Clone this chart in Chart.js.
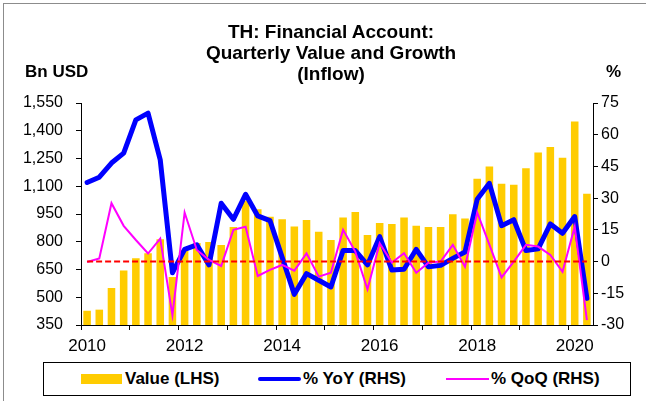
<!DOCTYPE html>
<html>
<head>
<meta charset="utf-8">
<script src="https://cdn.jsdelivr.net/npm/chart.js@4.4.1/dist/chart.umd.min.js"></script>
<style>
  html, body { margin: 0; padding: 0; background: #fff; }
  #wrap { position: relative; width: 646px; height: 401px; overflow: hidden; font-family: 'Liberation Sans', Arial, sans-serif; }
  #frame { position: absolute; left: 3px; top: 3px; width: 660px; height: 420px; border-left: 1px solid #8c8c8c; border-top: 1px solid #8c8c8c; }
  canvas { position: absolute; left: 0; top: 0; }
  .title { position: absolute; left: 0; width: 662px; top: 21px; text-align: center; font-weight: bold; font-size: 19px; line-height: 21px; color: #000; }
  .unit { position: absolute; font-weight: bold; font-size: 17px; color: #000; line-height: 20px; }
  #legend { position: absolute; left: 43px; top: 362px; width: 586px; height: 32px; border: 1px solid #000; background: #fff; }
  .lg { position: absolute; top: 6px; font-weight: bold; font-size: 17px; line-height: 20px; color: #000; }
  .sw { position: absolute; }
</style>
</head>
<body>
<div id="wrap">
  <div id="frame"></div>
  <canvas id="finChart" width="646" height="401"></canvas>
  <div class="title">TH: Financial Account:<br>Quarterly Value and Growth<br>(Inflow)</div>
  <div class="unit" style="left:25px; top:62px;">Bn USD</div>
  <div class="unit" style="left:606px; top:62px;">%</div>
  <div id="legend">
    <div class="sw" style="left:37px; top:11px; width:41px; height:10px; background:#FFCC00;"></div>
    <div class="lg" style="left:81px;">Value (LHS)</div>
    <div class="sw" style="left:214px; top:14px; width:43px; height:4px; background:#0000FF; border-radius:2px;"></div>
    <div class="lg" style="left:259px;">% YoY (RHS)</div>
    <div class="sw" style="left:402px; top:15px; width:43px; height:2px; background:#FF00FF;"></div>
    <div class="lg" style="left:447px;">% QoQ (RHS)</div>
  </div>
</div>
<script>
const quarters = [
  '2010Q1','2010Q2','2010Q3','2010Q4','2011Q1','2011Q2','2011Q3','2011Q4',
  '2012Q1','2012Q2','2012Q3','2012Q4','2013Q1','2013Q2','2013Q3','2013Q4',
  '2014Q1','2014Q2','2014Q3','2014Q4','2015Q1','2015Q2','2015Q3','2015Q4',
  '2016Q1','2016Q2','2016Q3','2016Q4','2017Q1','2017Q2','2017Q3','2017Q4',
  '2018Q1','2018Q2','2018Q3','2018Q4','2019Q1','2019Q2','2019Q3','2019Q4',
  '2020Q1','2020Q2'
];

// Bn USD (left axis)
const inflowValue = [
  427, 433, 550, 644, 711, 738, 814, 609,
  757, 793, 799, 783, 880, 1022, 976, 935,
  922, 883, 918, 854, 810, 931, 961, 837,
  902, 896, 931, 886, 880, 880, 949, 926,
  1140, 1207, 1113, 1108, 1197, 1283, 1312, 1254,
  1450, 1059
];

// % (right axis)
const yoyGrowth = [
  37.4, 39.9, 46.6, 51.3, 67.0, 70.2, 48.1, -5.3,
  5.8, 7.9, -1.6, 27.6, 20.0, 31.8, 21.6, 19.4,
  2.0, -15.5, -5.7, -8.8, -12.0, 5.2, 5.2, -1.6,
  11.8, -4.0, -3.6, 5.8, -2.5, -1.8, 1.5, 4.5,
  29.5, 37.0, 17.0, 19.8, 5.2, 6.0, 17.8, 13.4,
  21.3, -17.4
];

const qoqGrowth = [
  -0.2, 1.5, 27.6, 16.9, 10.2, 3.8, 10.9, -25.3,
  23.2, 5.5, 0.8, -2.1, 15.0, 16.5, -6.8, -3.9,
  -1.6, -4.3, 3.9, -7.1, -5.3, 15.0, 4.7, -13.1,
  8.7, -0.5, 3.9, -5.3, -0.5, 0.0, 7.9, -2.4,
  23.2, 8.0, -7.5, 0.0, 7.9, 7.1, 3.1, -4.8,
  16.5, -27.7
];

const leftTicks = { min: 350, max: 1550, step: 150 };
const rightTicks = { min: -30, max: 75, step: 15 };

// red dashed line at 0 % across the categories
const zeroLine = {
  id: 'zeroLine',
  afterDatasetsDraw(chart) {
    const x = chart.scales.x;
    const y2 = chart.scales.y2;
    const ctx = chart.ctx;
    const yy = y2.getPixelForValue(0);
    ctx.save();
    ctx.strokeStyle = '#FF0000';
    ctx.lineWidth = 2;
    ctx.setLineDash([6, 3]);
    ctx.beginPath();
    ctx.moveTo(x.getPixelForValue(0), yy);
    ctx.lineTo(x.getPixelForValue(quarters.length - 1), yy);
    ctx.stroke();
    ctx.restore();
  }
};

const tickFont = { family: "'Liberation Sans', Arial, sans-serif", size: 16 };

new Chart(document.getElementById('finChart').getContext('2d'), {
  type: 'bar',
  data: {
    labels: quarters,
    datasets: [
      {
        label: '% QoQ (RHS)',
        type: 'line',
        data: qoqGrowth,
        yAxisID: 'y2',
        borderColor: '#FF00FF',
        borderWidth: 2,
        pointRadius: 0,
        tension: 0,
        order: 1
      },
      {
        label: '% YoY (RHS)',
        type: 'line',
        data: yoyGrowth,
        yAxisID: 'y2',
        borderColor: '#0000FF',
        borderWidth: 5,
        borderJoinStyle: 'round',
        borderCapStyle: 'round',
        pointRadius: 0,
        tension: 0,
        order: 2
      },
      {
        label: 'Value (LHS)',
        data: inflowValue,
        yAxisID: 'y',
        backgroundColor: '#FFCC00',
        categoryPercentage: 1,
        barPercentage: 0.62,
        order: 3
      }
    ]
  },
  options: {
    responsive: false,
    animation: false,
    devicePixelRatio: 1,
    layout: { padding: { left: 0, right: 0, top: 103, bottom: 46 } },
    plugins: {
      legend: { display: false },
      tooltip: { enabled: false },
      title: { display: false }
    },
    scales: {
      x: {
        offset: true,
        grid: {
          offset: true,
          drawOnChartArea: false,
          tickLength: 5,
          color: (c) => (c.index % 4 === 0 ? '#000' : 'rgba(0,0,0,0)')
        },
        border: { display: true, color: '#000', width: 1 },
        ticks: {
          autoSkip: false,
          maxRotation: 0,
          padding: 6,
          color: '#000',
          font: { family: tickFont.family, size: 17 },
          callback: function (value, index) {
            const q = quarters[index];
            const yr = parseInt(q.slice(0, 4), 10);
            return (q.endsWith('Q1') && yr % 2 === 0) ? String(yr) : '';
          }
        },
        afterFit: (scale) => { scale.height = 30; }
      },
      y: {
        position: 'left',
        min: leftTicks.min,
        max: leftTicks.max,
        grid: { drawOnChartArea: false, tickLength: 5, color: '#000' },
        border: { display: true, color: '#000', width: 1 },
        ticks: {
          stepSize: leftTicks.step,
          padding: 13,
          color: '#000',
          font: tickFont,
          callback: (v) => v.toLocaleString('en-US')
        },
        afterFit: (scale) => { scale.width = 81; }
      },
      y2: {
        position: 'right',
        min: rightTicks.min,
        max: rightTicks.max,
        grid: { drawOnChartArea: false, tickLength: 5, color: '#000' },
        border: { display: true, color: '#000', width: 1 },
        ticks: {
          stepSize: rightTicks.step,
          padding: 3,
          color: '#000',
          font: tickFont
        },
        afterFit: (scale) => { scale.width = 53; }
      }
    }
  },
  plugins: [zeroLine]
});
</script>
</body>
</html>
